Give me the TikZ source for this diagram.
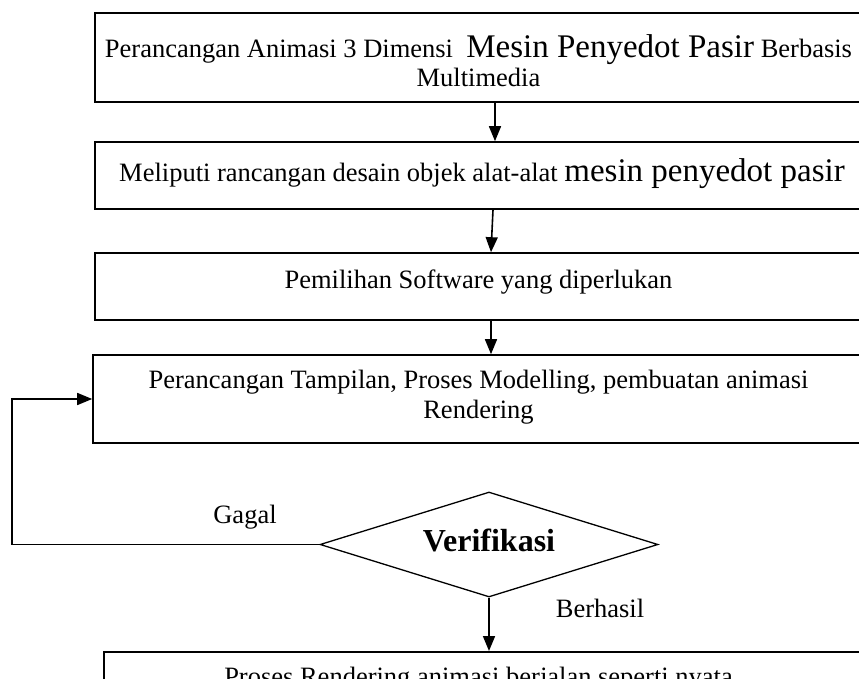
\documentclass[tikz,border=0pt]{standalone}
\usepackage{fontspec}
\setmainfont{Liberation Serif}
\usetikzlibrary{shapes.geometric,arrows.meta}
\begin{document}
\begin{tikzpicture}[x=1pt,y=1pt,
  box/.style={draw,line width=1.6pt,rectangle,inner sep=0pt},
  arr/.style={line width=1.6pt,-{Triangle[width=12pt,length=15pt]}},
  lbl/.style={inner sep=0pt,anchor=base,font=\fontsize{26.5}{31}\selectfont},
  big/.style={font=\fontsize{33}{36}\selectfont}]
\useasboundingbox (0,0) rectangle (859,-679);
\clip (0,0) rectangle (859,-679);
\node[box,minimum width=767pt,minimum height=89pt] (b1) at (478.5,-57.5) {};
\node[box,minimum width=767pt,minimum height=67pt] (b2) at (478.5,-175.5) {};
\node[box,minimum width=767pt,minimum height=67pt] (b3) at (478.5,-286.5) {};
\node[box,minimum width=771pt,minimum height=88pt] (b4) at (478.5,-399) {};
\node[draw,diamond,aspect=3.2,line width=1.3pt,inner sep=0pt,minimum width=338pt,minimum height=105pt] (v) at (489,-544.5) {};
\node[box,anchor=north west,minimum width=760pt,minimum height=80pt] (b5) at (103,-651) {};
\node[lbl] (t1a) at (478.5,-58) {Perancangan Animasi 3 Dimensi\ \ {\fontsize{33}{36}\selectfont Mesin Penyedot Pasir} Berbasis};
\node[lbl] (t1b) at (478.5,-87) {Multimedia};
\node[lbl] (t2) at (482,-182) {Meliputi rancangan desain objek alat-alat {\fontsize{33}{36}\selectfont mesin penyedot pasir}};
\node[lbl] (t3) at (478.5,-288) {Pemilihan Software yang diperlukan};
\node[lbl] (t4a) at (478.5,-388) {Perancangan Tampilan, Proses Modelling, pembuatan animasi};
\node[lbl] (t4b) at (478.5,-418) {Rendering};
\node[lbl,font=\fontsize{32}{36}\selectfont\bfseries] (tv) at (489,-551) {Verifikasi};
\node[lbl] (t5) at (478.5,-685) {Proses Rendering animasi berjalan seperti nyata};
\coordinate (x1) at (495,0);
\coordinate (x2) at (493,0);
\coordinate (x2b) at (491,0);
\coordinate (x3) at (491,0);
\coordinate (lx) at (12,0);
\draw[arr] (x1 |- b1.south) -- (x1 |- b2.north);
\draw[arr] (x2 |- b2.south) -- (x2b |- b3.north);
\draw[arr] (x3 |- b3.south) -- (x3 |- b4.north);
\draw[arr] (v.south) -- (v.south |- b5.north);
\draw[arr] (v.west) -- (lx |- v.west) |- (b4.west);
\node[lbl] (gagal) at (245,-523) {Gagal};
\node[lbl] (berhasil) at (600,-617) {Berhasil};
\end{tikzpicture}
\end{document}
